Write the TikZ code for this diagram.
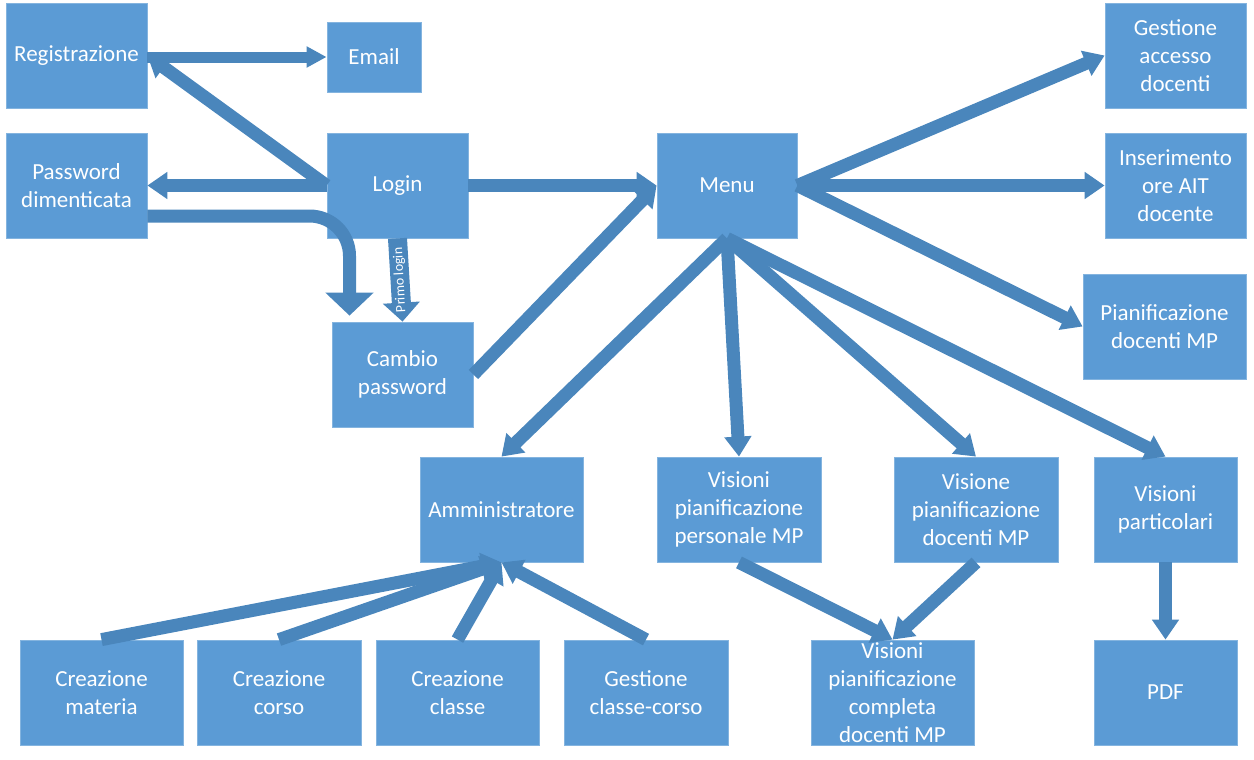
\documentclass[tikz,border=0pt]{standalone}
\usepackage{fontspec}
\setmainfont{Carlito}
\usetikzlibrary{arrows.meta,calc}

\definecolor{boxblue}{RGB}{91,155,213}
\definecolor{arrowblue}{RGB}{74,134,188}

\tikzset{
    box/.style={rectangle, fill=boxblue, draw=boxblue!75!white, line width=0.4pt,
        text=white, align=center, inner sep=0pt, minimum width=#1,
        minimum height=52.5pt, font=\fontsize{11.5}{14}\selectfont},
    box/.default=70.5pt,
    flow/.style={draw=arrowblue, line width=6.5pt, -{Triangle[width=13pt,length=10pt]}},
    thinflow/.style={draw=arrowblue, line width=5.5pt, -{Triangle[width=10pt,length=10pt]}},
    bigflow/.style={draw=arrowblue, line width=6.5pt, -{Triangle[width=23.5pt,length=11.5pt]}},
    primoflow/.style={draw=arrowblue, line width=9.5pt, -{Triangle[width=18pt,length=9.5pt]}}
}

\begin{document}
\begin{tikzpicture}[x=0.5pt, y=-0.5pt]
            \useasboundingbox (0,0) rectangle (1254,760);

            % access boxes
            \node[box] (reg) at (76.5,55.5) {Registrazione};
            \node[box=47pt, minimum height=35pt] (email) at (374,57) {Email};
            \node[box] (pwd) at (76.5,185.5) {Password\\dimenticata};
            \node[box] (login) at (397.5,185.5) {Login};
            \node[box] (cambio) at (402.5,374.5) {Cambio\\password};
            \node[box=70pt] (menu) at (727,185.5) {Menu};

            % right column
            \node[box] (gestacc) at (1175.5,55.5) {Gestione\\accesso\\docenti};
            \node[box] (insore) at (1175.5,185.5) {Inserimento\\ore AIT\\docente};
            \node[box=81.5pt] (pianif) at (1164.5,326.5) {Pianificazione\\docenti MP};

            % middle row
            \node[box=81.5pt] (admin) at (501.5,509.5) {Amministratore};
            \node[box=82pt] (vpers) at (739,509.5) {Visioni\\pianificazione\\personale MP};
            \node[box=82pt] (vdoc) at (976,509.5) {Visione\\pianificazione\\docenti MP};
            \node[box=71.5pt] (vpart) at (1165.5,509.5) {Visioni\\particolari};

            % bottom row
            \node[box=81.5pt] (cmat) at (101.5,692.5) {Creazione\\materia};
            \node[box=82pt] (ccorso) at (279,692.5) {Creazione\\corso};
            \node[box=81.5pt] (cclasse) at (457.5,692.5) {Creazione\\classe};
            \node[box=82pt] (gcc) at (646,692.5) {Gestione\\classe-corso};
            \node[box=81.5pt] (vcomp) at (892.5,692.5) {Visioni\\pianificazione\\completa\\docenti MP};
            \node[box=71.5pt] (pdf) at (1165.5,692.5) {PDF};

            % arrows around login
            \draw[thinflow] (reg.east |- email.west) -- (email.west);
            \draw[flow] (login.west) -- (reg.east);
            \draw[flow] (login.west) -- (pwd.east);
            \draw[bigflow, rounded corners=20pt] ($(pwd.east)+(0,30.5)$) -| ($(cambio.north)+(-53,-6)$);
            \draw[primoflow] (login.south) -- (cambio.north)
                node[pos=0.5, rotate=93, text=white, font=\fontsize{7}{8}\selectfont] {Primo login};
            \draw[flow] (login.east) -- (menu.west);
            \draw[flow] (cambio.east) -- (menu.west);

            % arrows out of the menu
            \draw[flow] (menu.east) -- (gestacc.west);
            \draw[flow] (menu.east) -- (insore.west);
            \draw[flow] (menu.east) -- (pianif.west);
            \draw[flow] (menu.south) -- (admin.north);
            \draw[flow] (menu.south) -- (vpers.north);
            \draw[flow] (menu.south) -- (vdoc.north);
            \draw[flow] (menu.south) -- (vpart.north);

            % bottom arrows
            \draw[flow] (cmat.north) -- (admin.south);
            \draw[flow] (ccorso.north) -- (admin.south);
            \draw[flow] (cclasse.north) -- (admin.south);
            \draw[flow] (gcc.north) -- (admin.south);
            \draw[flow] (vpers.south) -- (vcomp.north);
            \draw[flow] (vdoc.south) -- (vcomp.north);
            \draw[flow] (vpart.south) -- (pdf.north);
        \end{tikzpicture}
\end{document}
